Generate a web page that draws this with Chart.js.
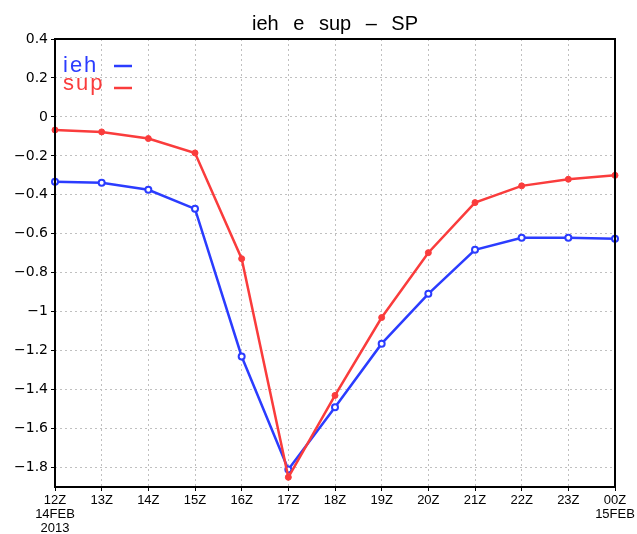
<!DOCTYPE html>
<html>
<head>
<meta charset="utf-8">
<script src="https://cdn.jsdelivr.net/npm/chart.js@4/dist/chart.umd.min.js"></script>
<style>
  html, body { margin: 0; padding: 0; background: #fff; }
  #wrap { width: 637px; height: 534px; }
</style>
</head>
<body>
<div id="wrap"><canvas id="c" width="637" height="534"></canvas></div>
<script>
// Hourly labels, 12Z 14 Feb 2013 to 00Z 15 Feb
const hours = [
  ['12Z', '14FEB', '2013'], '13Z', '14Z', '15Z', '16Z', '17Z', '18Z',
  '19Z', '20Z', '21Z', '22Z', '23Z', ['00Z', '15FEB']
];
const iehValues = [-0.333, -0.338, -0.374, -0.472, -1.23, -1.81, -1.49,
                   -1.164, -0.908, -0.682, -0.62, -0.62, -0.626];
const supValues = [-0.067, -0.077, -0.111, -0.185, -0.728, -1.85, -1.43,
                   -1.03, -0.697, -0.44, -0.354, -0.32, -0.30];
const yTickValues = [0.4, 0.2, 0, -0.2, -0.4, -0.6, -0.8, -1, -1.2, -1.4, -1.6, -1.8];
const titleText = 'ieh e sup \u2013 SP';

const BLUE = '#2b3cff';
const RED = '#fa3c3c';
const FONT = 'Liberation Sans, Arial, sans-serif';
const YFONT = 'DejaVu Sans, sans-serif';

const frameAndText = {
  id: 'frameAndText',
  afterDraw(chart) {
    const { ctx, chartArea: a } = chart;
    ctx.save();
    // plot frame
    ctx.strokeStyle = '#000';
    ctx.lineWidth = 2;
    ctx.setLineDash([]);
    ctx.strokeRect(a.left, a.top, a.right - a.left, a.bottom - a.top);
    // title
    ctx.fillStyle = '#000';
    ctx.font = '20px ' + FONT;
    ctx.wordSpacing = '9px';
    ctx.textAlign = 'center';
    ctx.textBaseline = 'alphabetic';
    ctx.fillText(titleText, (a.left + a.right) / 2, 30);
    ctx.wordSpacing = '0px';
    // legend
    ctx.textAlign = 'left';
    ctx.font = '22px ' + FONT;
    ctx.letterSpacing = '2px';
    const items = [['ieh', BLUE, 72, 66], ['sup', RED, 90, 88]];
    for (const [name, col, base, ly] of items) {
      ctx.fillStyle = col;
      ctx.fillText(name, 63, base);
      ctx.strokeStyle = col;
      ctx.lineWidth = 2.5;
      ctx.beginPath();
      ctx.moveTo(114, ly);
      ctx.lineTo(132, ly);
      ctx.stroke();
    }
    ctx.letterSpacing = '0px';
    ctx.restore();
  }
};

new Chart(document.getElementById('c'), {
  type: 'line',
  data: {
    labels: hours,
    datasets: [
      {
        label: 'sup', data: supValues, order: 1,
        borderColor: RED, backgroundColor: RED, borderWidth: 2.5,
        pointRadius: 3, pointBorderWidth: 1, pointBackgroundColor: RED, pointBorderColor: RED,
        tension: 0
      },
      {
        label: 'ieh', data: iehValues, order: 2,
        borderColor: BLUE, backgroundColor: '#fff', borderWidth: 2.5,
        pointRadius: 3, pointBorderWidth: 2, pointBackgroundColor: '#fff', pointBorderColor: BLUE,
        tension: 0
      }
    ]
  },
  options: {
    responsive: false,
    animation: false,
    devicePixelRatio: 1,
    layout: { padding: { top: 39, right: 22, left: 0, bottom: 0 } },
    plugins: { legend: { display: false }, title: { display: false }, tooltip: { enabled: false } },
    scales: {
      x: {
        offset: false,
        grid: { color: '#c0c0c0', lineWidth: 1, tickColor: '#000', tickLength: 4, drawTicks: true },
        border: { display: false, dash: [2, 3] },
        ticks: {
          color: '#000', font: { family: FONT, size: 13, lineHeight: 1.1 }, padding: 2,
          maxRotation: 0, autoSkip: false
        },
        afterFit(scale) { scale.height = 47; }
      },
      y: {
        min: -1.9, max: 0.4,
        afterBuildTicks(scale) { scale.ticks = yTickValues.map(v => ({ value: v })); },
        grid: { color: '#c0c0c0', lineWidth: 1, tickColor: '#000', tickLength: 4 },
        border: { display: false, dash: [2, 3] },
        ticks: {
          color: '#000', font: { family: YFONT, size: 14 }, padding: 3,
          callback: v => (Math.round(v * 10) / 10).toString().replace('-', '\u2212')
        },
        afterFit(scale) { scale.width = 55; }
      }
    }
  },
  plugins: [frameAndText]
});
</script>
</body>
</html>
